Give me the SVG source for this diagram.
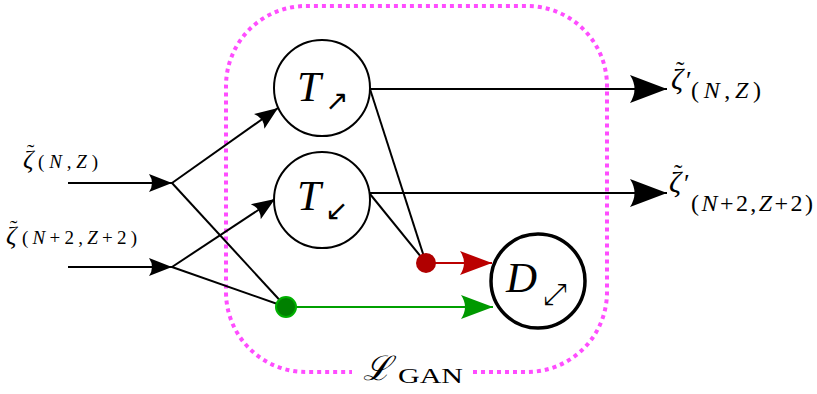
<svg xmlns="http://www.w3.org/2000/svg" width="817" height="394" viewBox="0 0 817 394">
<style>
.ln{stroke:#000;stroke-width:2;fill:none}
.node{fill:#fff;stroke:#000;stroke-width:2}
.mi{font-family:"Liberation Serif",serif;font-style:italic;fill:#000}
.rm{font-family:"Liberation Serif",serif;fill:#000}
.up{font-style:normal}
.sym{font-family:"DejaVu Sans",sans-serif;fill:#000}
</style>
<defs>
<marker id="aS" markerUnits="userSpaceOnUse" orient="auto" refX="0" refY="0" markerWidth="24" markerHeight="20" overflow="visible"><path d="M0,0 L-23,-9 Q-17,0 -23,9 Z" fill="#000"/></marker>
<marker id="aL" markerUnits="userSpaceOnUse" orient="auto" refX="0" refY="0" markerWidth="38" markerHeight="30" overflow="visible"><path d="M0,0 L-37,-14 Q-28,0 -37,14 Z" fill="#000"/></marker>
<marker id="aR" markerUnits="userSpaceOnUse" orient="auto" refX="0" refY="0" markerWidth="33" markerHeight="26" overflow="visible"><path d="M0,0 L-32,-12 Q-24,0 -32,12 Z" fill="#bb0000"/></marker>
<marker id="aG" markerUnits="userSpaceOnUse" orient="auto" refX="0" refY="0" markerWidth="33" markerHeight="26" overflow="visible"><path d="M0,0 L-32,-12 Q-24,0 -32,12 Z" fill="#009900"/></marker>
</defs>

<g id="gan-box">
<path d="M473,372 H527 A80,80 0 0 0 607,292 V86 A80,80 0 0 0 527,6 H306 A80,80 0 0 0 226,86 V292 A80,80 0 0 0 306,372 H352" fill="none" stroke="#ff4dff" stroke-width="4" stroke-dasharray="4 4"/>
<text x="363" y="380" font-family="DejaVu Serif,serif" font-style="italic" font-size="34">ℒ</text>
<text class="rm" x="398" y="383" font-size="22" textLength="65" lengthAdjust="spacingAndGlyphs">GAN</text>
</g>

<g id="connectors">
<path class="ln" d="M68,183 L172,183" marker-end="url(#aS)"/>
<path class="ln" d="M68,267 L172,267" marker-end="url(#aS)"/>
<path class="ln" d="M172,183 L278,108" marker-end="url(#aS)"/>
<path class="ln" d="M172,267 L275,199" marker-end="url(#aS)"/>
<path class="ln" d="M172,183 L286,307"/>
<path class="ln" d="M172,267 L286,307"/>
<path class="ln" d="M370,89 L426,263"/>
<path class="ln" d="M370,194 L426,263"/>
<path class="ln" d="M368,89 L667,89" marker-end="url(#aL)"/>
<path class="ln" d="M368,193 L667,193" marker-end="url(#aL)"/>
<path d="M286,307 L493,307" stroke="#00a000" stroke-width="2" fill="none" marker-end="url(#aG)"/>
<path d="M426,263 L492,263" stroke="#bb0000" stroke-width="2" fill="none" marker-end="url(#aR)"/>
</g>

<g id="green-dot"><circle cx="286" cy="307" r="10" fill="#008000" stroke="#00b000" stroke-width="2"/></g>
<g id="red-dot"><circle cx="426" cy="263" r="10" fill="#b00000"/></g>

<g id="T-up">
<circle class="node" cx="322" cy="88" r="48"/>
<text class="mi" x="297" y="101" font-size="43">T</text>
<text class="sym" x="325" y="110" font-size="28">↗</text>
</g>
<g id="T-down">
<circle class="node" cx="322" cy="200" r="48"/>
<text class="mi" x="297" y="210" font-size="43">T</text>
<text class="sym" x="325" y="220" font-size="28">↙</text>
</g>
<g id="D">
<circle cx="538" cy="281" r="47" fill="#fff" stroke="#000" stroke-width="3.5"/>
<text class="mi" x="506" y="292" font-size="43">D</text>
<text class="sym" x="543" y="304" font-size="30">⤢</text>
</g>

<g id="label-in1">
<text class="mi" font-size="26"><tspan x="23" y="168">ζ</tspan><tspan class="up" x="27" y="159" font-size="22">˜</tspan></text>
<text class="mi" x="38" y="168" font-size="19" textLength="60" lengthAdjust="spacing"><tspan class="up">(</tspan>N<tspan class="up">,</tspan>Z<tspan class="up">)</tspan></text>
</g>
<g id="label-in2">
<text class="mi" font-size="26"><tspan x="6" y="244">ζ</tspan><tspan class="up" x="10" y="235" font-size="22">˜</tspan></text>
<text class="mi" x="22" y="244" font-size="19" textLength="115" lengthAdjust="spacing"><tspan class="up">(</tspan>N<tspan class="up">+2,</tspan>Z<tspan class="up">+2)</tspan></text>
</g>
<g id="label-out1">
<text class="mi" font-size="30"><tspan x="671" y="89">ζ</tspan><tspan class="up" x="676" y="79" font-size="25">˜</tspan><tspan class="up" x="686" y="89" font-size="26">′</tspan></text>
<text class="mi" x="691" y="98" font-size="24" textLength="70" lengthAdjust="spacing"><tspan class="up">(</tspan>N<tspan class="up">,</tspan>Z<tspan class="up">)</tspan></text>
</g>
<g id="label-out2">
<text class="mi" font-size="30"><tspan x="669" y="192">ζ</tspan><tspan class="up" x="674" y="182" font-size="25">˜</tspan><tspan class="up" x="684" y="192" font-size="26">′</tspan></text>
<text class="mi" x="691" y="211" font-size="24" textLength="122" lengthAdjust="spacing"><tspan class="up">(</tspan>N<tspan class="up">+2,</tspan>Z<tspan class="up">+2)</tspan></text>
</g>
</svg>
